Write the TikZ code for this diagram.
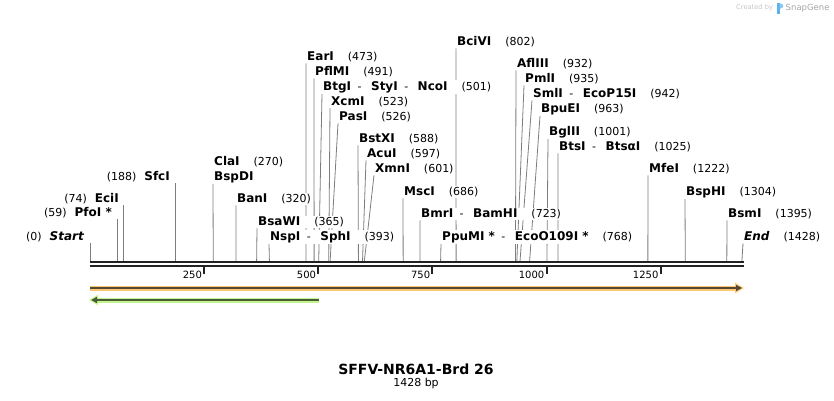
\documentclass[tikz,border=0pt]{standalone}
\usepackage{fontspec}
\setmainfont{DejaVu Sans}
\usetikzlibrary{arrows.meta,backgrounds}
\definecolor{axisdark}{RGB}{34,34,34}
\definecolor{sitegray}{RGB}{125,125,125}
\definecolor{featorange}{RGB}{252,198,112}
\definecolor{featorangedark}{RGB}{84,72,52}
\definecolor{featgreen}{RGB}{196,244,140}
\definecolor{featgreendark}{RGB}{72,92,56}
\definecolor{logoblue}{RGB}{90,180,235}
\newcommand{\nm}[1]{{\fontsize{12}{13}\selectfont\bfseries #1}}
\newcommand{\at}[1]{\hspace{14pt}(#1)}
\newcommand{\sepr}{\hspace{6.5pt}-\hspace{9.5pt}}
\newcommand{\sitex}[1]{90+0.4565*#1}
\begin{document}
\begin{tikzpicture}[x=1pt,y=-1pt,
    enz/.style={anchor=west,inner xsep=1pt,inner ysep=1pt,fill=white,font=\fontsize{11}{13}\selectfont},
    enzl/.style={enz,anchor=east},
    cutline/.style={sitegray,line width=0.8pt},
    axisline/.style={axisdark,line width=2.2pt},
    tickmark/.style={axisdark,line width=2pt},
    ticklab/.style={anchor=east,inner sep=0.5pt,font=\fontsize{10}{12}\selectfont},
    featband/.style={line width=5pt},
    featcore/.style={line width=2pt}]
  \useasboundingbox (0,0) rectangle (834,400);

  \foreach \b in {0,59,74,188,270,320,365,393,473,491,501,523,526,588,597,601,686,723,768,802,932,935,942,963,1001,1025,1222,1304,1395,1428}
    \coordinate (s\b) at ({\sitex{\b}},261);

  \draw[axisline] (89.5,262.2) -- (743.5,262.2);
  \draw[axisline] (89.5,266.2) -- (743.5,266.2);
  \foreach \t in {250,500,750,1000,1250} {
    \draw[tickmark] ({\sitex{\t}},267) -- ++(0,7);
    \node[ticklab] (t\t) at ({\sitex{\t}-1.5},275) {\t};
  }

  \node[enzl] (start) at (85,237) {(0)\hspace{8pt}\nm{\itshape Start}};
  \node[enzl] (pfoI) at (113,213) {(59)\hspace{8pt}\nm{PfoI *}};
  \node[enzl] (eciI) at (120,199) {(74)\hspace{8pt}\nm{EciI}};
  \node[enzl] (sfcI) at (171,177) {(188)\hspace{8pt}\nm{SfcI}};

  \node[enz] (claI) at (213,162) {\nm{ClaI}\at{270}};
  \node[enz] (bspDI) at (213,177) {\nm{BspDI}};
  \node[enz] (banI) at (236,199) {\nm{BanI}\at{320}};
  \node[enz] (bsaWI) at (257,222) {\nm{BsaWI}\at{365}};
  \node[enz] (nspI) at (269,237) {\nm{NspI}\sepr\nm{SphI}\at{393}};
  \node[enz] (earI) at (306,57) {\nm{EarI}\at{473}};
  \node[enz] (pflMI) at (314,72) {\nm{PflMI}\at{491}};
  \node[enz] (btgI) at (322,87) {\nm{BtgI}\sepr\nm{StyI}\sepr\nm{NcoI}\at{501}};
  \node[enz] (xcmI) at (330,102) {\nm{XcmI}\at{523}};
  \node[enz] (pasI) at (338,117) {\nm{PasI}\at{526}};
  \node[enz] (bstXI) at (358,139) {\nm{BstXI}\at{588}};
  \node[enz] (acuI) at (366,154) {\nm{AcuI}\at{597}};
  \node[enz] (xmnI) at (374,169) {\nm{XmnI}\at{601}};
  \node[enz] (mscI) at (403,192) {\nm{MscI}\at{686}};
  \node[enz] (bmrI) at (420,214) {\nm{BmrI}\sepr\nm{BamHI}\at{723}};
  \node[enz] (ppuMI) at (441,237) {\nm{PpuMI *}\sepr\nm{EcoO109I *}\at{768}};
  \node[enz] (bciVI) at (456,42) {\nm{BciVI}\at{802}};
  \node[enz] (aflIII) at (516,64) {\nm{AflIII}\at{932}};
  \node[enz] (pmlI) at (524,79) {\nm{PmlI}\at{935}};
  \node[enz] (smlI) at (532,94) {\nm{SmlI}\sepr\nm{EcoP15I}\at{942}};
  \node[enz] (bpuEI) at (540,109) {\nm{BpuEI}\at{963}};
  \node[enz] (bglII) at (548,132) {\nm{BglII}\at{1001}};
  \node[enz] (btsI) at (558,147) {\nm{BtsI}\sepr\nm{BtsαI}\at{1025}};
  \node[enz] (mfeI) at (648,169) {\nm{MfeI}\at{1222}};
  \node[enz] (bspHI) at (685,192) {\nm{BspHI}\at{1304}};
  \node[enz] (bsmI) at (727,214) {\nm{BsmI}\at{1395}};
  \node[enz] (endL) at (743,237) {\nm{\itshape End}\at{1428}};

  \begin{scope}[on background layer]
    \draw[cutline] (s0 |- start.south) -- (s0);
    \draw[cutline] (s59 |- pfoI.south) -- (s59);
    \draw[cutline] (s74 |- eciI.south) -- (s74);
    \draw[cutline] (s188 |- sfcI.south) -- (s188);
    \draw[cutline] (bspDI.south west) -- (s270);
    \draw[cutline] (banI.south west) -- (s320);
    \draw[cutline] (bsaWI.south west) -- (s365);
    \draw[cutline] (nspI.south west) -- (s393);
    \draw[cutline] (earI.south west) -- (s473);
    \draw[cutline] (pflMI.south west) -- (s491);
    \draw[cutline] (btgI.south west) -- (s501);
    \draw[cutline] (xcmI.south west) -- (s523);
    \draw[cutline] (pasI.south west) -- (s526);
    \draw[cutline] (bstXI.south west) -- (s588);
    \draw[cutline] (acuI.south west) -- (s597);
    \draw[cutline] (xmnI.south west) -- (s601);
    \draw[cutline] (mscI.south west) -- (s686);
    \draw[cutline] (bmrI.south west) -- (s723);
    \draw[cutline] (ppuMI.south west) -- (s768);
    \draw[cutline] (bciVI.south west) -- (s802);
    \draw[cutline] (aflIII.south west) -- (s932);
    \draw[cutline] (pmlI.south west) -- (s935);
    \draw[cutline] (smlI.south west) -- (s942);
    \draw[cutline] (bpuEI.south west) -- (s963);
    \draw[cutline] (bglII.south west) -- (s1001);
    \draw[cutline] (btsI.south west) -- (s1025);
    \draw[cutline] (mfeI.south west) -- (s1222);
    \draw[cutline] (bspHI.south west) -- (s1304);
    \draw[cutline] (bsmI.south west) -- (s1395);
    \draw[cutline] (endL.south west) -- (s1428);
  \end{scope}

  \coordinate (orgA) at (90,288);
  \coordinate (orgB) at (744,288);
  \draw[featband,featorange,-{Triangle[length=9pt,width=10pt]}] (orgA) -- (orgB);
  \draw[featcore,featorangedark,-{Triangle[length=6pt,width=6pt]}] (orgA) -- ([xshift=-2pt]orgB);
  \coordinate (grnA) at (319,300);
  \coordinate (grnB) at (89,300);
  \draw[featband,featgreen,-{Triangle[length=9pt,width=10pt]}] (grnA) -- (grnB);
  \draw[featcore,featgreendark,-{Triangle[length=6pt,width=6pt]}] (grnA) -- ([xshift=2pt]grnB);

  \node[font=\fontsize{14}{16}\selectfont\bfseries] (title) at (416,369) {SFFV-NR6A1-Brd 26};
  \node[font=\fontsize{11}{13}\selectfont] (size) at (416,383) {1428 bp};

  \node[anchor=west,inner sep=0pt,text=gray!45,font=\fontsize{6.7}{8}\selectfont] (made) at (736,8) {Created by};
  \fill[logoblue] (777,3) rectangle (779.5,14);
  \fill[logoblue!70] (779.5,3) .. controls (784.5,3.5) and (784.5,8.5) .. (779.5,9) -- cycle;
  \node[anchor=west,inner sep=0pt,text=gray!70,font=\fontsize{8.5}{10}\selectfont] (brand) at (785.5,8) {SnapGene};
\end{tikzpicture}
\end{document}
